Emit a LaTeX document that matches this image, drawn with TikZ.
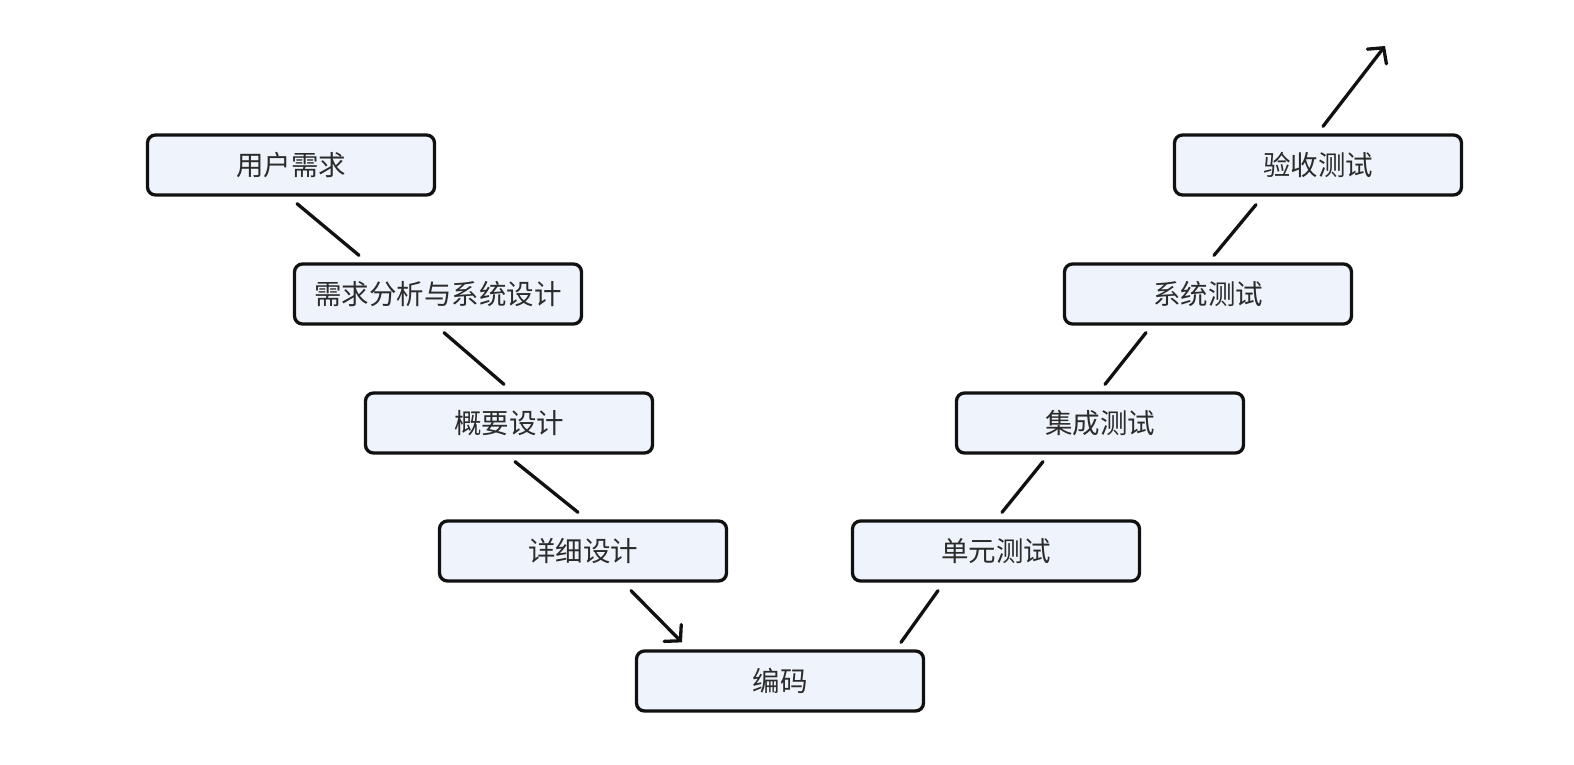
\documentclass[tikz,border=0pt]{standalone}
\usepackage{fontspec}
\newfontfamily\cjk{Noto Sans CJK SC}
\usepackage{tikz}
\usetikzlibrary{arrows.meta}
\definecolor{cFill}{HTML}{EFF4FC}
\definecolor{cLine}{HTML}{111111}
\definecolor{cText}{HTML}{2B2B2B}

\begin{document}
\begin{tikzpicture}[
  x=1pt,y=-1pt,
  font=\cjk\fontsize{27.5}{32}\selectfont,
  stage/.style={draw=cLine,fill=cFill,line width=3.3pt,rounded corners=8pt,
    minimum width=287pt,minimum height=60pt,inner sep=0pt,text=cText},
  link/.style={draw=cLine,line width=3.3pt,line cap=round},
  ar/.style={link,-{Straight Barb[length=11pt,width=24pt,line cap=round]}}
]
\useasboundingbox (0,0) rectangle (1574,764);
% left branch
\node[stage] (req)  at (291,165) {用户需求};
\node[stage] (ana)  at (438,294) {需求分析与系统设计};
\node[stage] (arch) at (509,423) {概要设计};
\node[stage] (det)  at (583,551) {详细设计};
\node[stage] (code) at (780,681) {编码};
% right branch
\node[stage] (unit)  at (996,551)  {单元测试};
\node[stage] (integ) at (1100,423) {集成测试};
\node[stage] (sys)   at (1208,294) {系统测试};
\node[stage] (acc)   at (1318,165) {验收测试};
\coordinate (out) at (1385,46);
\draw[link] ([xshift=6pt,yshift=-7pt]req.south) -- ([xshift=-79pt,yshift=7pt]ana.north);
\draw[link] ([xshift=6pt,yshift=-7pt]ana.south) -- ([xshift=-5pt,yshift=7pt]arch.north);
\draw[link] ([xshift=6pt,yshift=-7pt]arch.south) -- ([xshift=-5pt,yshift=7pt]det.north);
\draw[ar] ([xshift=48pt,yshift=-8pt]det.south) -- ([xshift=-98pt,yshift=7pt]code.north);
\draw[link] ([xshift=121pt,yshift=7pt]code.north) -- ([xshift=-58pt,yshift=-8pt]unit.south);
\draw[link] ([xshift=6pt,yshift=7pt]unit.north) -- ([xshift=-57pt,yshift=-7pt]integ.south);
\draw[link] ([xshift=5pt,yshift=7pt]integ.north) -- ([xshift=-62pt,yshift=-7pt]sys.south);
\draw[link] ([xshift=6pt,yshift=7pt]sys.north) -- ([xshift=-62pt,yshift=-8pt]acc.south);
\draw[ar] ([xshift=5pt,yshift=7pt]acc.north) -- (out);
\end{tikzpicture}
\end{document}
